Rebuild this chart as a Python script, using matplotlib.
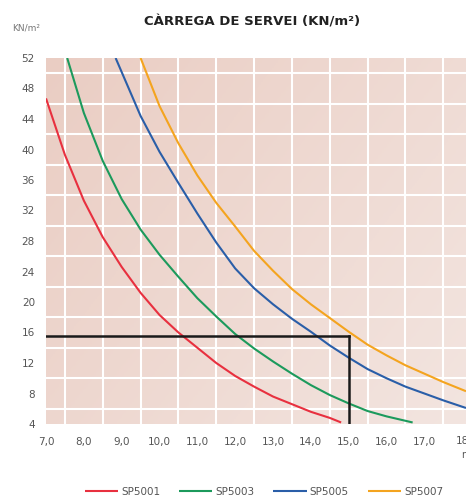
import numpy as np
import matplotlib
matplotlib.use("Agg")
import matplotlib.pyplot as plt
from matplotlib.colors import LinearSegmentedColormap

# Data
x_sp5001 = [7.0, 7.5, 8.0, 8.5, 9.0, 9.5, 10.0, 10.5, 11.0, 11.5, 12.0, 12.5, 13.0, 13.5, 14.0, 14.5, 14.8]
y_sp5001 = [46.7, 39.3, 33.3, 28.5, 24.6, 21.2, 18.3, 16.0, 14.0, 12.0, 10.3, 8.9, 7.6, 6.6, 5.6, 4.8, 4.2]

x_sp5003 = [7.56, 8.0, 8.5, 9.0, 9.5, 10.0, 10.5, 11.0, 11.5, 12.0, 12.5, 13.0, 13.5, 14.0, 14.5, 15.0, 15.5, 16.0, 16.69]
y_sp5003 = [52.0, 44.8, 38.5, 33.5, 29.5, 26.2, 23.3, 20.5, 18.1, 15.8, 13.9, 12.2, 10.6, 9.1, 7.8, 6.7, 5.7, 5.0, 4.2]

x_sp5005 = [8.84, 9.5, 10.0, 10.5, 11.0, 11.5, 12.0, 12.5, 13.0, 13.5, 14.0, 14.5, 15.0, 15.5, 16.0, 16.5, 17.0, 17.5, 18.1]
y_sp5005 = [52.0, 44.4, 39.7, 35.6, 31.6, 27.8, 24.4, 21.8, 19.7, 17.8, 16.1, 14.3, 12.7, 11.2, 10.0, 8.9, 8.0, 7.1, 6.1]

x_sp5007 = [9.5, 10.0, 10.5, 11.0, 11.5, 12.0, 12.5, 13.0, 13.5, 14.0, 14.5, 15.0, 15.5, 16.0, 16.5, 17.0, 17.5, 18.1]
y_sp5007 = [52.0, 45.7, 40.8, 36.6, 33.0, 29.9, 26.7, 24.1, 21.7, 19.7, 17.9, 16.1, 14.4, 13.0, 11.7, 10.6, 9.5, 8.3]

series_names = ["SP5001", "SP5003", "SP5005", "SP5007"]
series_colors = ["#e8303f", "#1c9a5c", "#2a5ea8", "#f4a41f"]

x_ticks = [7, 8, 9, 10, 11, 12, 13, 14, 15, 16, 17, 18]
x_tick_labels = ["7,0", "8,0", "9,0", "10,0", "11,0", "12,0", "13,0", "14,0", "15,0", "16,0", "17,0", "18"]
y_ticks = [4, 8, 12, 16, 20, 24, 28, 32, 36, 40, 44, 48, 52]

ref_load = 15.5
ref_span = 15.0

fig = plt.figure(figsize=(4.66, 4.97), dpi=100)
fig.patch.set_facecolor("white")
ax = fig.add_axes([46 / 466, (497 - 424) / 497, (466 - 46) / 466, 366 / 497])

xmin, xmax, ymin, ymax = 7.0, 18.1, 4.0, 52.0
ax.set_xlim(xmin, xmax)
ax.set_ylim(ymin, ymax)

# gradient background
cmap = LinearSegmentedColormap.from_list("bg", ["#eacdc3", "#f3e5e0"])
gx, gy = np.meshgrid(np.linspace(0, 1, 200), np.linspace(0, 1, 200))
grad = (gx * 0.6 + gy * 0.4)
ax.imshow(grad, extent=[xmin, xmax, ymin, ymax], origin="upper", cmap=cmap,
          aspect="auto", zorder=0)

for s in ax.spines.values():
    s.set_visible(False)

ax.set_xticks(np.arange(7, 18.2, 0.5), minor=True)
ax.set_yticks(np.arange(4, 52.1, 2), minor=True)
ax.grid(which="minor", color="white", linewidth=1.5, zorder=1)
ax.set_axisbelow(False)
ax.set_xticks(x_ticks)
ax.set_xticklabels(x_tick_labels)
ax.set_yticks(y_ticks)
ax.tick_params(which="both", length=0, labelsize=7.5, colors="#555555", pad=9)
ax.tick_params(axis="y", pad=8)

xs = [x_sp5001, x_sp5003, x_sp5005, x_sp5007]
ys = [y_sp5001, y_sp5003, y_sp5005, y_sp5007]
handles = []
for x, y, c, n in zip(xs, ys, series_colors, series_names):
    h, = ax.plot(x, y, color=c, linewidth=1.5, zorder=3, label=n,
                 solid_capstyle="butt", solid_joinstyle="round")
    handles.append(h)

ax.plot([xmin, ref_span], [ref_load, ref_load], color="#1a1a1a", linewidth=1.8, zorder=4)
ax.plot([ref_span, ref_span], [ymin, ref_load], color="#1a1a1a", linewidth=1.8, zorder=4)

fig.text(252 / 466, 1 - 22 / 497, "CÀRREGA DE SERVEI (KN/m²)", ha="center", va="center",
         fontsize=9.5, fontweight="bold", color="#222222")
fig.text(12 / 466, 1 - 28 / 497, "KN/m²", ha="left", va="center", fontsize=6.5, color="#777777")
fig.text(461 / 466, 1 - 455 / 497, "m", ha="left", va="center", fontsize=7, color="#555555")

fig.legend(handles=handles, loc="center", bbox_to_anchor=(264 / 466, 1 - 492 / 497),
           ncol=4, frameon=False, fontsize=7.5, handlelength=3.2, columnspacing=1.8,
           handletextpad=0.3, labelcolor="#555555")

fig.savefig("out.png", dpi=100)
